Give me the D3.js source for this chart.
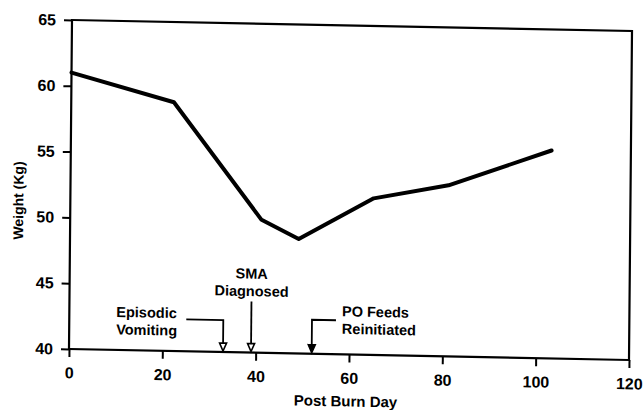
<!DOCTYPE html>
<html>
<head>
<meta charset="utf-8">
<script src="https://cdn.jsdelivr.net/npm/d3@7"></script>
<style>
  body { margin: 0; background: #fff; }
  svg { display: block; }
  .tick text { font-family: "Liberation Sans", Arial, sans-serif; font-weight: bold; font-size: 16px; fill: #000; }
  .lbl { font-family: "Liberation Sans", Arial, sans-serif; font-weight: bold; fill: #000; }
</style>
</head>
<body>
<script>
"use strict";

// weight curve
var days = [0, 22, 41, 49, 65, 81, 103];
var weights = [61.0, 58.9, 50.1, 48.7, 51.9, 53.0, 55.8];

var xTicks = [0, 20, 40, 60, 80, 100, 120];
var yTicks = [40, 45, 50, 55, 60, 65];

// clinical events along the day axis
var eventDays = [33, 39, 52];
var eventLabels = [["Episodic", "Vomiting"], ["SMA", "Diagnosed"], ["PO Feeds", "Reinitiated"]];

var W = 560, H = 329;

var svg = d3.select("body").append("svg")
  .attr("width", 644)
  .attr("height", 410);

// the scanned page is slightly skewed, so the plot is too
var g = svg.append("g")
  .attr("transform", "matrix(1, 0.01964, -0.00912, 1, 72, 20)");

var x = d3.scaleLinear().domain([0, 120]).range([0, W]);
var y = d3.scaleLinear().domain([40, 65]).range([H, 0]);

// y axis
var yAxis = g.append("g")
  .call(d3.axisLeft(y).tickValues(yTicks).tickSize(8).tickPadding(8));
yAxis.select(".domain").remove();
yAxis.selectAll("line").attr("stroke", "#000").attr("stroke-width", 2);

// x axis
var xAxis = g.append("g")
  .attr("transform", "translate(0," + H + ")")
  .call(d3.axisBottom(x).tickValues(xTicks).tickSize(8).tickPadding(10));
xAxis.select(".domain").remove();
xAxis.selectAll("line").attr("stroke", "#000").attr("stroke-width", 2);

// frame
g.append("rect")
  .attr("x", 0).attr("y", 0)
  .attr("width", W).attr("height", H)
  .attr("fill", "none")
  .attr("stroke", "#000")
  .attr("stroke-width", 2.2);

// weight line
var pts = days.map(function(d, i) { return [d, weights[i]]; });
var line = d3.line()
  .x(function(d) { return x(d[0]); })
  .y(function(d) { return y(d[1]); });

g.append("path")
  .datum(pts)
  .attr("d", line)
  .attr("fill", "none")
  .attr("stroke", "#000")
  .attr("stroke-width", 4)
  .attr("stroke-linejoin", "round")
  .attr("stroke-linecap", "round");

// event markers and leaders
function marker(xm, filled) {
  g.append("path")
    .attr("d", "M" + (xm - 3.5) + "," + (H - 9) + "L" + (xm + 3.5) + "," + (H - 9) + "L" + xm + "," + (H - 1) + "Z")
    .attr("fill", filled ? "#000" : "#fff")
    .attr("stroke", "#000")
    .attr("stroke-width", 1.6);
}

function leader(d) {
  g.append("path")
    .attr("d", d)
    .attr("fill", "none")
    .attr("stroke", "#000")
    .attr("stroke-width", 1.8);
}

function label(lines, tx, ty, anchor) {
  var t = g.append("text")
    .attr("class", "lbl")
    .attr("font-size", "14.5px")
    .attr("text-anchor", anchor);
  lines.forEach(function(s, i) {
    t.append("tspan").attr("x", tx).attr("y", ty + i * 17.5).text(s);
  });
}

// Episodic Vomiting
var x0 = x(eventDays[0]);
leader("M" + (x0 - 37) + "," + (H - 32) + "H" + x0 + "V" + (H - 8));
marker(x0, false);
label(eventLabels[0], x0 - 107, H - 33, "start");

// SMA Diagnosed
var x1 = x(eventDays[1]);
leader("M" + x1 + "," + (H - 51) + "V" + (H - 8));
marker(x1, false);
label(eventLabels[1], x1, H - 74, "middle");

// PO Feeds Reinitiated
var x2 = x(eventDays[2]);
leader("M" + (x2 + 24) + "," + (H - 34) + "H" + x2 + "V" + (H - 8));
marker(x2, true);
label(eventLabels[2], x2 + 30, H - 38, "start");

// axis titles
g.append("text")
  .attr("class", "lbl")
  .attr("font-size", "15px")
  .attr("text-anchor", "middle")
  .attr("x", W / 2 - 3)
  .attr("y", H + 52)
  .text("Post Burn Day");

g.append("text")
  .attr("class", "lbl")
  .attr("font-size", "14px")
  .attr("text-anchor", "middle")
  .attr("transform", "translate(-47," + (H / 2 + 17) + ") rotate(-90)")
  .text("Weight (Kg)");
</script>
</body>
</html>
